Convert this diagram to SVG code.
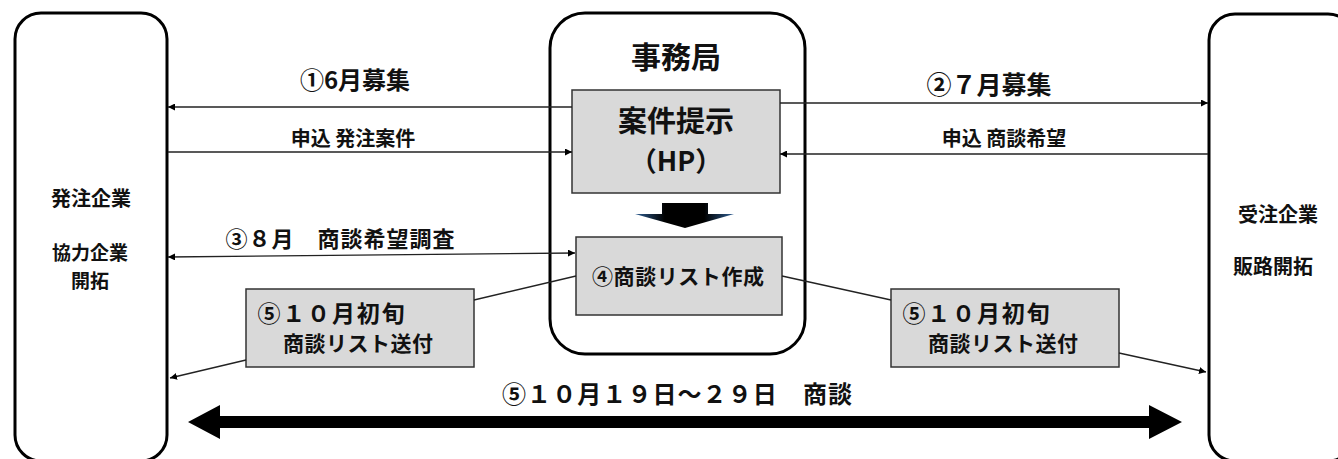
<svg xmlns="http://www.w3.org/2000/svg" width="1338" height="459" viewBox="0 0 1338 459">
<defs>
<style>
.big{fill:#fff;stroke:#000;stroke-width:3}
.gbox{fill:#d9d9d9;stroke:#333;stroke-width:1.5}
.t{font-family:"Noto Sans CJK JP","Noto Sans",sans-serif;font-weight:bold;fill:#111;text-anchor:middle;dominant-baseline:central}
.ln{stroke:#222;stroke-width:1.3;fill:none}
</style>
<marker id="ah" viewBox="0 0 10 10" refX="10" refY="5" markerWidth="7" markerHeight="7" markerUnits="userSpaceOnUse" orient="auto-start-reverse">
<path d="M0,0 L10,5 L0,10 z" fill="#000"/>
</marker>
<linearGradient id="dg" x1="0" y1="0" x2="1" y2="0">
<stop offset="0" stop-color="#2f5f94"/>
<stop offset="0.3" stop-color="#000"/>
<stop offset="0.7" stop-color="#000"/>
<stop offset="1" stop-color="#2f5f94"/>
</linearGradient>
</defs>

<g id="hatchu">
<rect class="big" x="15" y="13" width="152" height="448" rx="26"/>
<text class="t" x="91" y="197" font-size="20">発注企業</text>
<text class="t" x="90" y="251" font-size="19">協力企業</text>
<text class="t" x="90" y="279" font-size="19">開拓</text>
</g>

<g id="jimukyoku">
<rect class="big" x="550" y="13" width="255" height="341" rx="35"/>
<text class="t" x="676" y="55" font-size="30">事務局</text>
</g>

<g id="anken">
<rect class="gbox" x="572" y="90" width="208" height="103"/>
<text class="t" x="676" y="119" font-size="29">案件提示</text>
<text class="t" x="676" y="159" font-size="27">（HP）</text>
</g>

<g id="down-arrow">
<polygon points="662,203 708,203 708,214 734,214 685,228 635,214 662,214" fill="url(#dg)"/>
</g>

<g id="list">
<rect class="gbox" x="576" y="237" width="206" height="78"/>
<text class="t" x="678" y="275" font-size="21" textLength="172">④商談リスト作成</text>
</g>

<g id="juchu">
<rect class="big" x="1209" y="14" width="145" height="447" rx="26"/>
<text class="t" x="1278" y="213" font-size="20">受注企業</text>
<text class="t" x="1273" y="265" font-size="20">販路開拓</text>
</g>

<g id="send-left">
<rect class="gbox" x="246" y="289" width="228" height="78"/>
<text class="t" x="331" y="312" font-size="23" textLength="147">⑤１０月初旬</text>
<text class="t" x="358" y="342" font-size="21" textLength="150">商談リスト送付</text>
</g>

<g id="send-right">
<rect class="gbox" x="891" y="289" width="228" height="78"/>
<text class="t" x="976" y="312" font-size="23" textLength="147">⑤１０月初旬</text>
<text class="t" x="1003" y="342" font-size="21" textLength="150">商談リスト送付</text>
</g>

<g id="connectors">
<line class="ln" x1="572" y1="107" x2="168" y2="107" marker-end="url(#ah)"/>
<line class="ln" x1="168" y1="152" x2="572" y2="152" marker-end="url(#ah)"/>
<line class="ln" x1="780" y1="103" x2="1208" y2="103" marker-end="url(#ah)"/>
<line class="ln" x1="1208" y1="154" x2="780" y2="154" marker-end="url(#ah)"/>
<line class="ln" x1="168" y1="257" x2="575" y2="253" marker-start="url(#ah)" marker-end="url(#ah)"/>
<line class="ln" x1="474" y1="300" x2="576" y2="276"/>
<line class="ln" x1="246" y1="360" x2="170" y2="378" marker-end="url(#ah)"/>
<line class="ln" x1="782" y1="276" x2="891" y2="300"/>
<line class="ln" x1="1119" y1="353" x2="1206" y2="372" marker-end="url(#ah)"/>
<polygon points="188,422 220,405 220,416 1149,416 1149,405 1182,422 1149,439 1149,428 220,428 220,439" fill="#000"/>
</g>

<g id="labels">
<text class="t" x="355" y="78" font-size="24">①6月募集</text>
<text class="t" x="353" y="137" font-size="20">申込 発注案件</text>
<text class="t" x="989" y="83" font-size="25">②７月募集</text>
<text class="t" x="1004" y="137" font-size="20">申込 商談希望</text>
<text class="t" x="340" y="237" font-size="22" textLength="229">③８月　商談希望調査</text>
<text class="t" x="677" y="392" font-size="24" textLength="350">⑤１０月１９日～２９日　商談</text>
</g>
</svg>
